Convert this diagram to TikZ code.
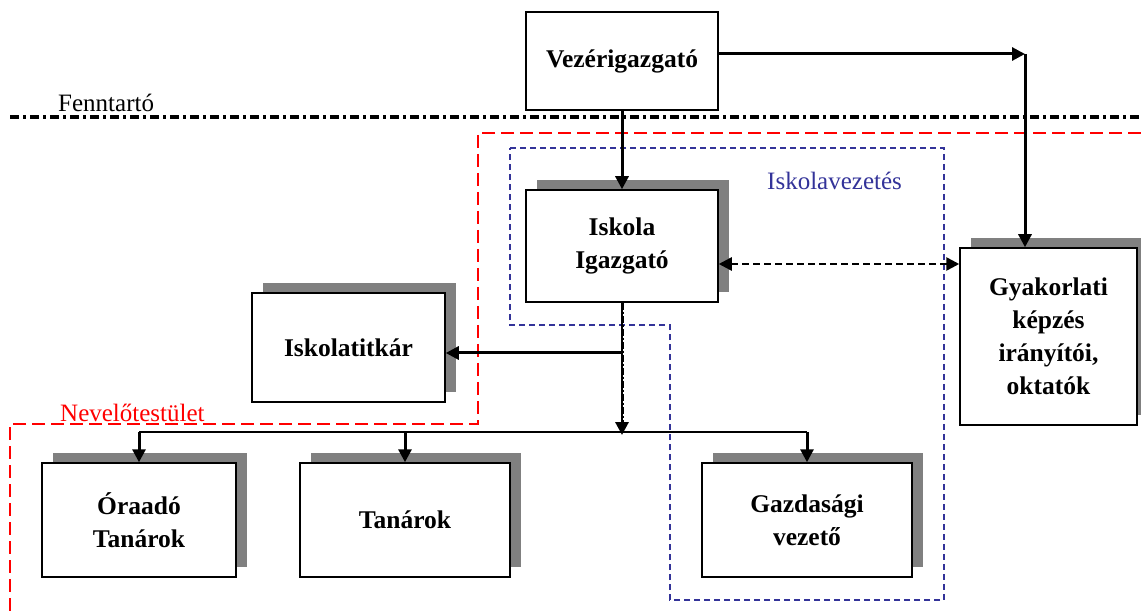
\documentclass[tikz,border=0pt]{standalone}
\usepackage{fontspec}
\setmainfont{Liberation Serif}
\usetikzlibrary{arrows.meta,shadows}
\definecolor{ivblue}{RGB}{51,51,153}
\begin{document}
\begin{tikzpicture}[x=1pt,y=-1pt,
  >={Triangle[length=13pt,width=13pt]},
  box/.style={draw=black,line width=1.5pt,fill=white,inner sep=0pt,align=center,
    font=\fontsize{25.5}{33}\selectfont\bfseries},
  shbox/.style={box,general shadow={fill=gray,shadow xshift=11pt,shadow yshift=10pt}},
  conn/.style={line width=3pt,->},
  thin/.style={line width=1.6pt},
  lbl/.style={inner sep=0pt,anchor=base west,font=\fontsize{25}{30}\selectfont}]
\useasboundingbox (0,0) rectangle (1141,612);
% group outlines
\draw[line width=3.2pt,dash pattern=on 9pt off 4pt on 3pt off 4pt] (10,117) -- (1141,117);
\node[lbl] (fenn) at (58,112) {Fenntartó};
\draw[red,line width=2.8pt,dash pattern=on 13pt off 6pt] (1141,133) -- (478,133) -- (478,424) -- (10,424) -- (10,612);
\node[lbl,red] (nev) at (60,421) {Nevelőtestület};
\draw[ivblue,line width=2.4pt,dash pattern=on 6pt off 4pt] (510,148) -- (944,148) -- (944,600) -- (670,600) -- (670,325) -- (510,325) -- cycle;
\node[lbl,ivblue] (isv) at (767,190) {Iskolavezetés};
% boxes
\node[box,minimum width=192pt,minimum height=98pt] (vez) at (622,61) {Vezérigazgató};
\node[shbox,minimum width=192pt,minimum height=112pt] (isk) at (622,246) {Iskola\\Igazgató};
\node[shbox,minimum width=193pt,minimum height=109pt] (tit) at (348.5,347.5) {Iskolatitkár};
\node[shbox,minimum width=177pt,minimum height=177pt] (gyak) at (1048.5,336.5) {Gyakorlati\\képzés\\irányítói,\\oktatók};
\node[shbox,minimum width=194pt,minimum height=114pt] (ora) at (139,520) {Óraadó\\Tanárok};
\node[shbox,minimum width=210pt,minimum height=114pt] (tan) at (405,520) {Tanárok};
\node[shbox,minimum width=210pt,minimum height=114pt] (gaz) at (807,520) {Gazdasági\\vezető};
% connectors
\coordinate (c1) at (1025,54);
\coordinate (br) at (622,353);
\coordinate (hb) at (622,432);
\draw[conn] (c1 -| vez.east) -- (c1);
\draw[conn] (c1) -- (c1 |- gyak.north);
\draw[conn] (vez.south) -- (isk.north);
\draw[line width=2.6pt,dash pattern=on 7pt off 4pt,<->] (isk.east |- 0,264) -- (gyak.west |- 0,264);
\draw[thin] (isk.south) -- (hb);
\draw[line width=3pt,dash pattern=on 7pt off 2pt on 2pt off 2pt,->] (isk.south) -- ([yshift=-3pt]hb);
\draw[conn] (br) -- (br -| tit.east);
\draw[thin] (hb -| ora.north) -- (hb -| gaz.north);
\draw[conn] (hb -| ora.north) -- (ora.north);
\draw[conn] (hb -| tan.north) -- (tan.north);
\draw[conn] (hb -| gaz.north) -- (gaz.north);
\end{tikzpicture}
\end{document}
